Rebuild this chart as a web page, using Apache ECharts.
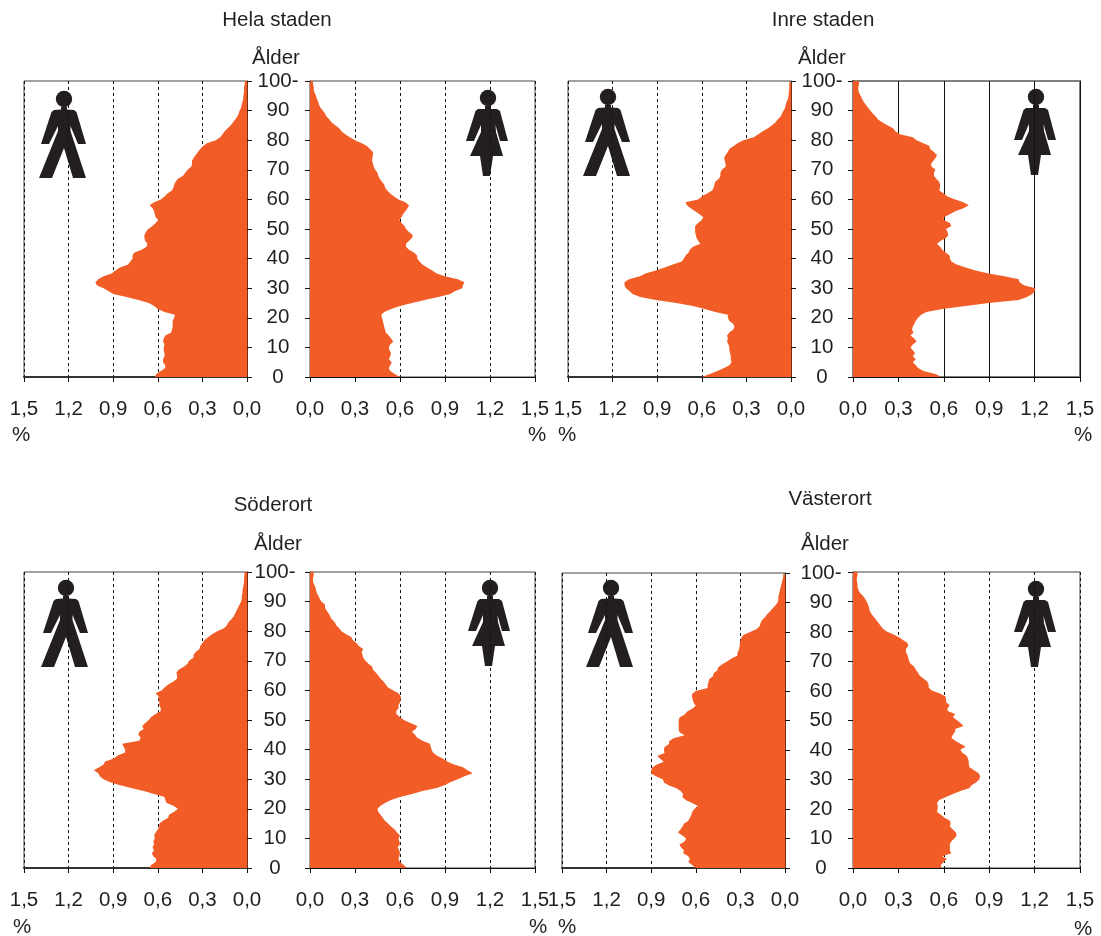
<!DOCTYPE html>
<html>
<head>
<meta charset="utf-8">
<style>html,body{margin:0;padding:0;background:#fff}#c{width:1101px;height:936px}</style>
<script src="https://cdn.jsdelivr.net/npm/echarts@6/dist/echarts.min.js"></script>
</head>
<body>
<div id="c"></div>
<script>
// Shares (%) per single year of age, index = age 0..100
const helaMen = [.62,.61,.58,.55,.55,.565,.565,.555,.555,.56,.56,.555,.565,.56,.55,.51,.505,.50,.50,.50,.49,.485,.555,.60,.625,.66,.73,.81,.90,.93,.965,1.01,1.02,1.00,.965,.91,.885,.855,.80,.785,.77,.77,.76,.71,.675,.67,.685,.69,.69,.68,.665,.635,.615,.595,.615,.62,.625,.635,.655,.625,.58,.555,.535,.505,.495,.49,.48,.465,.43,.415,.40,.375,.37,.37,.36,.345,.33,.315,.295,.27,.21,.18,.165,.15,.13,.11,.095,.08,.065,.055,.05,.04,.035,.03,.025,.025,.02,.02,.02,.015,.015];
const helaWomen = [.60,.565,.535,.525,.535,.545,.525,.535,.54,.53,.525,.535,.555,.54,.525,.505,.50,.495,.49,.485,.48,.475,.495,.54,.60,.68,.765,.855,.935,.965,1.015,1.02,1.03,.985,.90,.845,.815,.78,.75,.73,.715,.715,.695,.66,.64,.64,.66,.68,.685,.66,.64,.63,.61,.595,.61,.62,.635,.65,.66,.635,.59,.56,.535,.515,.50,.495,.48,.465,.455,.45,.435,.425,.42,.415,.415,.42,.42,.40,.38,.345,.30,.265,.235,.21,.195,.17,.145,.13,.11,.10,.085,.07,.06,.055,.045,.04,.03,.025,.025,.02,.02];
const inreMen = [.60,.545,.495,.45,.415,.40,.405,.405,.41,.415,.415,.42,.43,.425,.43,.415,.39,.38,.39,.415,.425,.425,.51,.58,.66,.77,.91,1.015,1.065,1.085,1.11,1.12,1.12,1.09,1.015,.98,.91,.85,.795,.735,.72,.71,.69,.68,.66,.61,.625,.635,.64,.645,.645,.645,.625,.60,.59,.615,.645,.675,.70,.71,.625,.60,.565,.53,.52,.515,.51,.485,.475,.475,.465,.44,.44,.445,.45,.44,.425,.415,.385,.36,.32,.25,.22,.19,.155,.13,.105,.09,.07,.06,.05,.04,.035,.03,.02,.017,.015,.012,.012,.012,.012];
const inreWomen = [.585,.545,.465,.43,.415,.395,.415,.395,.41,.395,.38,.395,.42,.405,.38,.40,.39,.395,.405,.415,.43,.45,.485,.59,.745,.895,1.095,1.15,1.185,1.20,1.205,1.13,1.10,1.095,1.00,.895,.81,.745,.685,.65,.64,.64,.615,.59,.575,.555,.58,.615,.63,.625,.615,.65,.64,.60,.60,.64,.675,.73,.765,.73,.675,.625,.60,.57,.575,.575,.57,.55,.535,.535,.545,.52,.515,.53,.545,.555,.535,.51,.505,.465,.42,.395,.31,.28,.265,.23,.195,.165,.15,.13,.115,.10,.085,.07,.06,.05,.04,.035,.035,.04,.04];
const soderMen = [.655,.645,.615,.61,.63,.64,.625,.635,.625,.63,.62,.625,.615,.60,.59,.59,.565,.53,.525,.49,.465,.495,.54,.55,.555,.625,.695,.78,.86,.92,.965,.99,1.00,1.03,.995,.965,.955,.895,.87,.82,.82,.83,.84,.725,.715,.73,.725,.695,.705,.685,.66,.645,.615,.58,.58,.59,.59,.595,.595,.615,.575,.555,.53,.495,.47,.47,.475,.46,.425,.40,.39,.36,.36,.345,.32,.315,.30,.285,.26,.235,.20,.155,.135,.125,.105,.09,.08,.07,.06,.05,.04,.035,.035,.03,.03,.025,.022,.02,.02,.017,.017];
const soderWomen = [.645,.625,.60,.59,.595,.60,.595,.585,.60,.595,.59,.60,.58,.565,.54,.52,.50,.485,.47,.455,.45,.47,.50,.54,.60,.68,.75,.845,.90,.935,.985,1.03,1.085,1.05,1.02,.96,.915,.885,.845,.82,.81,.805,.80,.75,.715,.70,.68,.705,.715,.67,.625,.60,.575,.575,.59,.59,.60,.605,.605,.59,.555,.52,.505,.49,.47,.455,.44,.42,.415,.39,.37,.355,.35,.345,.355,.325,.31,.285,.275,.24,.21,.195,.175,.165,.145,.135,.125,.11,.10,.10,.075,.065,.055,.045,.04,.035,.025,.02,.02,.025,.025];
const vasterMen = [.60,.625,.65,.64,.65,.685,.68,.70,.71,.675,.665,.69,.72,.705,.69,.68,.65,.64,.63,.625,.61,.585,.625,.665,.69,.685,.70,.73,.78,.815,.82,.865,.90,.90,.895,.865,.815,.84,.86,.81,.815,.81,.78,.78,.75,.675,.71,.715,.715,.715,.715,.71,.675,.66,.625,.60,.615,.62,.625,.625,.60,.52,.52,.515,.51,.485,.48,.455,.45,.425,.39,.36,.32,.32,.31,.305,.305,.30,.295,.28,.235,.19,.17,.165,.155,.135,.12,.10,.085,.065,.05,.045,.045,.04,.035,.03,.025,.02,.015,.012,.01];
const vasterWomen = [.585,.58,.60,.62,.59,.65,.64,.64,.64,.65,.67,.685,.68,.66,.64,.645,.64,.605,.58,.555,.56,.56,.555,.57,.615,.66,.71,.77,.785,.815,.835,.84,.83,.80,.77,.765,.765,.76,.75,.72,.71,.745,.71,.675,.65,.66,.675,.675,.73,.71,.685,.66,.675,.625,.625,.64,.615,.615,.61,.57,.52,.50,.50,.49,.465,.44,.43,.415,.405,.38,.37,.365,.36,.35,.35,.365,.36,.33,.30,.265,.22,.195,.18,.165,.15,.135,.12,.11,.105,.10,.09,.08,.065,.045,.035,.03,.03,.025,.025,.03,.03];

const ages = [];
for (let a = 0; a <= 100; a++) ages.push(String(a));
const ageTickLabels = {0:'0',10:'10',20:'20',30:'30',40:'40',50:'50',60:'60',70:'70',80:'80',90:'90',100:'100-'};
const shareTicks = ['0,0','0,3','0,6','0,9','1,2','1,5'];
const titles = ['Hela staden','Inre staden','Söderort','Västerort'];

// Pictogram outlines, relative to the centre of the head, in px
const MAN = [[-3,8],[-3,10.5],[-10,11],[-12.5,13],[-23,45],[-15,45],[-6,27],[-6,32],[-25,79],[-12,79],[0,49],[9,79],[22,79],[6.5,32],[6.5,27],[14,45],[22,45],[12.5,13],[10,11],[3,10.5],[3,8]];
const WOMAN = [[-3,8],[-3,11],[-10,11],[-12.5,13],[-22,43],[-14,43],[-7,27],[-7,34],[-18,58],[-8,58],[-5,78],[2,78],[5,58],[15,58],[8,34],[7.5,27],[12,43],[20,43],[12,13],[9,11],[3,11],[3,8]];

const FONT = 'Liberation Sans, Arial, sans-serif';
const TXT = '#231f20';
const FS = 20.5;
const panels = [
 {title:0, tx:277, ty:19, ax:276, ay:58, labelC:278, men:helaMen, women:helaWomen,
  L:{x:24,y:81,w:223,h:296}, R:{x:310,y:81,w:225,h:296}, pL:[21,435], pR:[537,435], hM:[64,99], hW:[488,98]},
 {title:1, tx:823, ty:19, ax:822, ay:58, labelC:822, men:inreMen, women:inreWomen,
  L:{x:568,y:81,w:223,h:296}, R:{x:853,y:81,w:227,h:296}, pL:[567,435], pR:[1083,435], hM:[608,97], hW:[1036,97], solid:true},
 {title:2, tx:273, ty:504, ax:278, ay:544, labelC:275, men:soderMen, women:soderWomen,
  L:{x:24,y:572,w:223,h:296}, R:{x:310,y:572,w:225,h:296}, pL:[22,927], pR:[538,927], hM:[66,588], hW:[490,588]},
 {title:3, tx:830, ty:498, ax:825, ay:544, labelC:821, men:vasterMen, women:vasterWomen,
  L:{x:562,y:573,w:223,h:295}, R:{x:853,y:572,w:227,h:296}, pL:[567,927], pR:[1083,929], hM:[611,588], hW:[1036,589]}
];

const grid=[], xAxis=[], yAxis=[], series=[], graphic=[], title=[];
const isTick = i => i % 10 === 0;

function addPane(rect, values, isLeft, solid, labelC){
  const idx = grid.length;
  grid.push({left:rect.x, top:rect.y, width:rect.w, height:rect.h, show:true, containLabel:false,
    borderColor: solid ? '#808080' : '#444', borderWidth: solid ? 2 : 1, backgroundColor:'transparent'});
  xAxis.push({type:'value', gridIndex:idx, min:0, max:1.5, interval:.3, inverse:isLeft, position:'bottom',
    axisLine:{show:true, onZero:false, lineStyle:{color: isLeft ? '#333' : '#111', width: isLeft ? 2 : 1}},
    axisTick:{show:true, length:5, lineStyle:{color:'#111', width:1}},
    axisLabel:{margin:22, fontFamily:FONT, fontSize:FS, color:TXT, hideOverlap:false,
      formatter:v => shareTicks[Math.round(v/.3)]},
    splitLine:{show:true, lineStyle:solid ? {color:'#111', width:1, type:'solid'} : {color:'#111', width:1, type:[3,3]}}});
  yAxis.push({type:'category', gridIndex:idx, data:ages, boundaryGap:false, position:isLeft?'right':'left',
    axisLine:{show:true, onZero:false, lineStyle:{color: isLeft ? '#7a3010' : '#111', width:1}},
    axisTick:{show:true, length:5, interval:(i)=>isTick(i), lineStyle:{color:'#111', width:1}},
    axisLabel:isLeft ? {show:true, interval:(i)=>isTick(i), align:'center', margin:labelC-(rect.x+rect.w),
      padding:[5,0,0,0], fontFamily:FONT, fontSize:FS, color:TXT, formatter:(v)=>ageTickLabels[v]} : {show:false},
    splitLine:{show:false}});
  series.push({type:'line', xAxisIndex:idx, yAxisIndex:idx, data:values, showSymbol:false, silent:true,
    lineStyle:{width:0}, areaStyle:{color:'#F25C26', opacity:1}, z:3, animation:false});
}
function addText(t, x, y, size){
  graphic.push({type:'text', x, y, z:20, style:{text:t, fill:TXT, font:size+'px '+FONT, textAlign:'center', textVerticalAlign:'middle'}});
}
function addIcon(points, head){
  graphic.push({type:'polygon', shape:{points:points.map(p=>[p[0]+head[0], p[1]+head[1]])}, z:-1, style:{fill:TXT}});
  graphic.push({type:'circle', shape:{cx:head[0], cy:head[1], r:8.2}, z:-1, style:{fill:TXT}});
}
panels.forEach(p=>{
  addPane(p.L, p.men, true, false, p.labelC);
  addPane(p.R, p.women, false, !!p.solid, p.labelC);
  title.push({text:titles[p.title], left:p.tx, top:p.ty-9, textAlign:'center',
    textStyle:{fontFamily:FONT, fontSize:FS, fontWeight:'normal', color:TXT}, padding:0});
  addText('Ålder', p.ax, p.ay, FS);
  addText('%', p.pL[0], p.pL[1], FS);
  addText('%', p.pR[0], p.pR[1], FS);
  addIcon(MAN, p.hM);
  addIcon(WOMAN, p.hW);
});

const chart = echarts.init(document.getElementById('c'), null, {renderer:'canvas'});
chart.setOption({animation:false, backgroundColor:'#fff', title, grid, xAxis, yAxis, series, graphic:{elements:graphic}, tooltip:{show:false}});
</script>
</body>
</html>
